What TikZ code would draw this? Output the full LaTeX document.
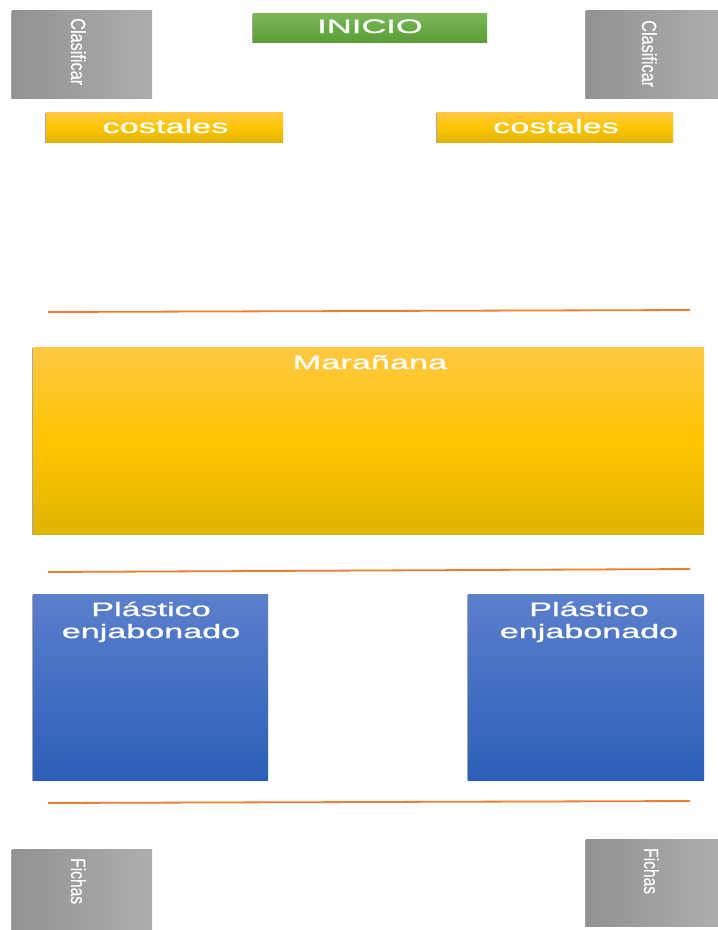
\documentclass[tikz,border=0pt]{standalone}
\usepackage{fontspec}
\setmainfont{Liberation Sans}
\newfontfamily\lblfont[FakeBold=0.8]{Liberation Sans}
\newfontfamily\vlblfont[FakeBold=0.3]{Liberation Sans}
\usepackage{graphicx}
\usetikzlibrary{shadows}
\definecolor{grayL}{HTML}{929292}
\definecolor{grayR}{HTML}{ADADAD}
\definecolor{greenT}{HTML}{7AB85A}
\definecolor{greenB}{HTML}{5B9E35}
\definecolor{yelT}{HTML}{FFC843}
\definecolor{yelM}{HTML}{FEC500}
\definecolor{yelB}{HTML}{E0B400}
\definecolor{blueT}{HTML}{5B7FCC}
\definecolor{blueB}{HTML}{2C5FB8}
\definecolor{sepor}{HTML}{ED7D31}
\newcommand\sq[2]{\scalebox{#1}[1]{#2}}
\tikzset{
  box/.style={draw=none, inner sep=0pt, outer sep=0pt,
    drop shadow={shadow xshift=-1.5pt, shadow yshift=-0.8pt, fill=black, opacity=0.35}},
  graybox/.style={box, left color=grayL, right color=grayR},
  greenbox/.style={box, top color=greenT, bottom color=greenB},
  yelbox/.style={box, top color=yelT, bottom color=yelB, middle color=yelM},
  bluebox/.style={box, top color=blueT, bottom color=blueB},
  lbl/.style={text=white, inner sep=0pt, anchor=base, font=\lblfont\fontsize{19.5}{22}\selectfont},
  vlbl/.style={text=white, inner sep=0pt, anchor=base west, rotate=-90, font=\vlblfont\fontsize{20.5}{24}\selectfont},
  sepline/.style={draw=sepor, line width=1.8pt},
}
\begin{document}
\begin{tikzpicture}[x=1pt,y=-1pt]
\useasboundingbox (0,0) rectangle (718,930);
\fill[white] (0,0) rectangle (718,930);
\clip (0,0) rectangle (718,930);
% boxes
\node[graybox, minimum width=140pt, minimum height=88pt] (clasL) at (82,54) {};
\node[graybox, minimum width=134pt, minimum height=88pt] (clasR) at (653,54) {};
\node[greenbox, minimum width=234pt, minimum height=29pt] (inicio) at (370,27.5) {};
\node[yelbox, minimum width=237pt, minimum height=30pt] (costL) at (164.5,127) {};
\node[yelbox, minimum width=236pt, minimum height=30pt] (costR) at (555,127) {};
\node[yelbox, minimum width=671pt, minimum height=187pt] (mar) at (368.5,440.5) {};
\node[bluebox, minimum width=235pt, minimum height=186pt] (plaL) at (150.5,687) {};
\node[bluebox, minimum width=236pt, minimum height=186pt] (plaR) at (586,687) {};
\node[graybox, minimum width=140pt, minimum height=100pt] (fichL) at (82,899) {};
\node[graybox, minimum width=134pt, minimum height=87pt] (fichR) at (653,882.5) {};
% separator lines
\coordinate (s1a) at (48,312); \coordinate (s1b) at (690,310);
\coordinate (s2a) at (48,572); \coordinate (s2b) at (690,569);
\coordinate (s3a) at (48,803); \coordinate (s3b) at (690,801);
\draw[sepline] (s1a) -- (s1b);
\draw[sepline] (s2a) -- (s2b);
\draw[sepline] (s3a) -- (s3b);
% labels
\node[lbl] (tIni) at (370,33) {\sq{1.77}{INICIO}};
\node[lbl] (tCostL) at (165.5,133) {\sq{1.76}{costales}};
\node[lbl] (tCostR) at (556,133) {\sq{1.76}{costales}};
\node[lbl] (tMar) at (370,369) {\sq{1.76}{Marañana}};
\node[lbl] (tPlaL) at (151,616) {\sq{1.75}{\begin{tabular}[t]{@{}c@{}}Plástico\\enjabonado\end{tabular}}};
\node[lbl] (tPlaR) at (589,616) {\sq{1.75}{\begin{tabular}[t]{@{}c@{}}Plástico\\enjabonado\end{tabular}}};
\node[vlbl] (tClasL) at (71,18) {\sq{0.795}{Clasificar}};
\node[vlbl] (tClasR) at (642,20) {\sq{0.795}{Clasificar}};
\node[vlbl] (tFichL) at (71,858) {\sq{0.76}{Fichas}};
\node[vlbl] (tFichR) at (644,848) {\sq{0.76}{Fichas}};
\end{tikzpicture}
\end{document}
